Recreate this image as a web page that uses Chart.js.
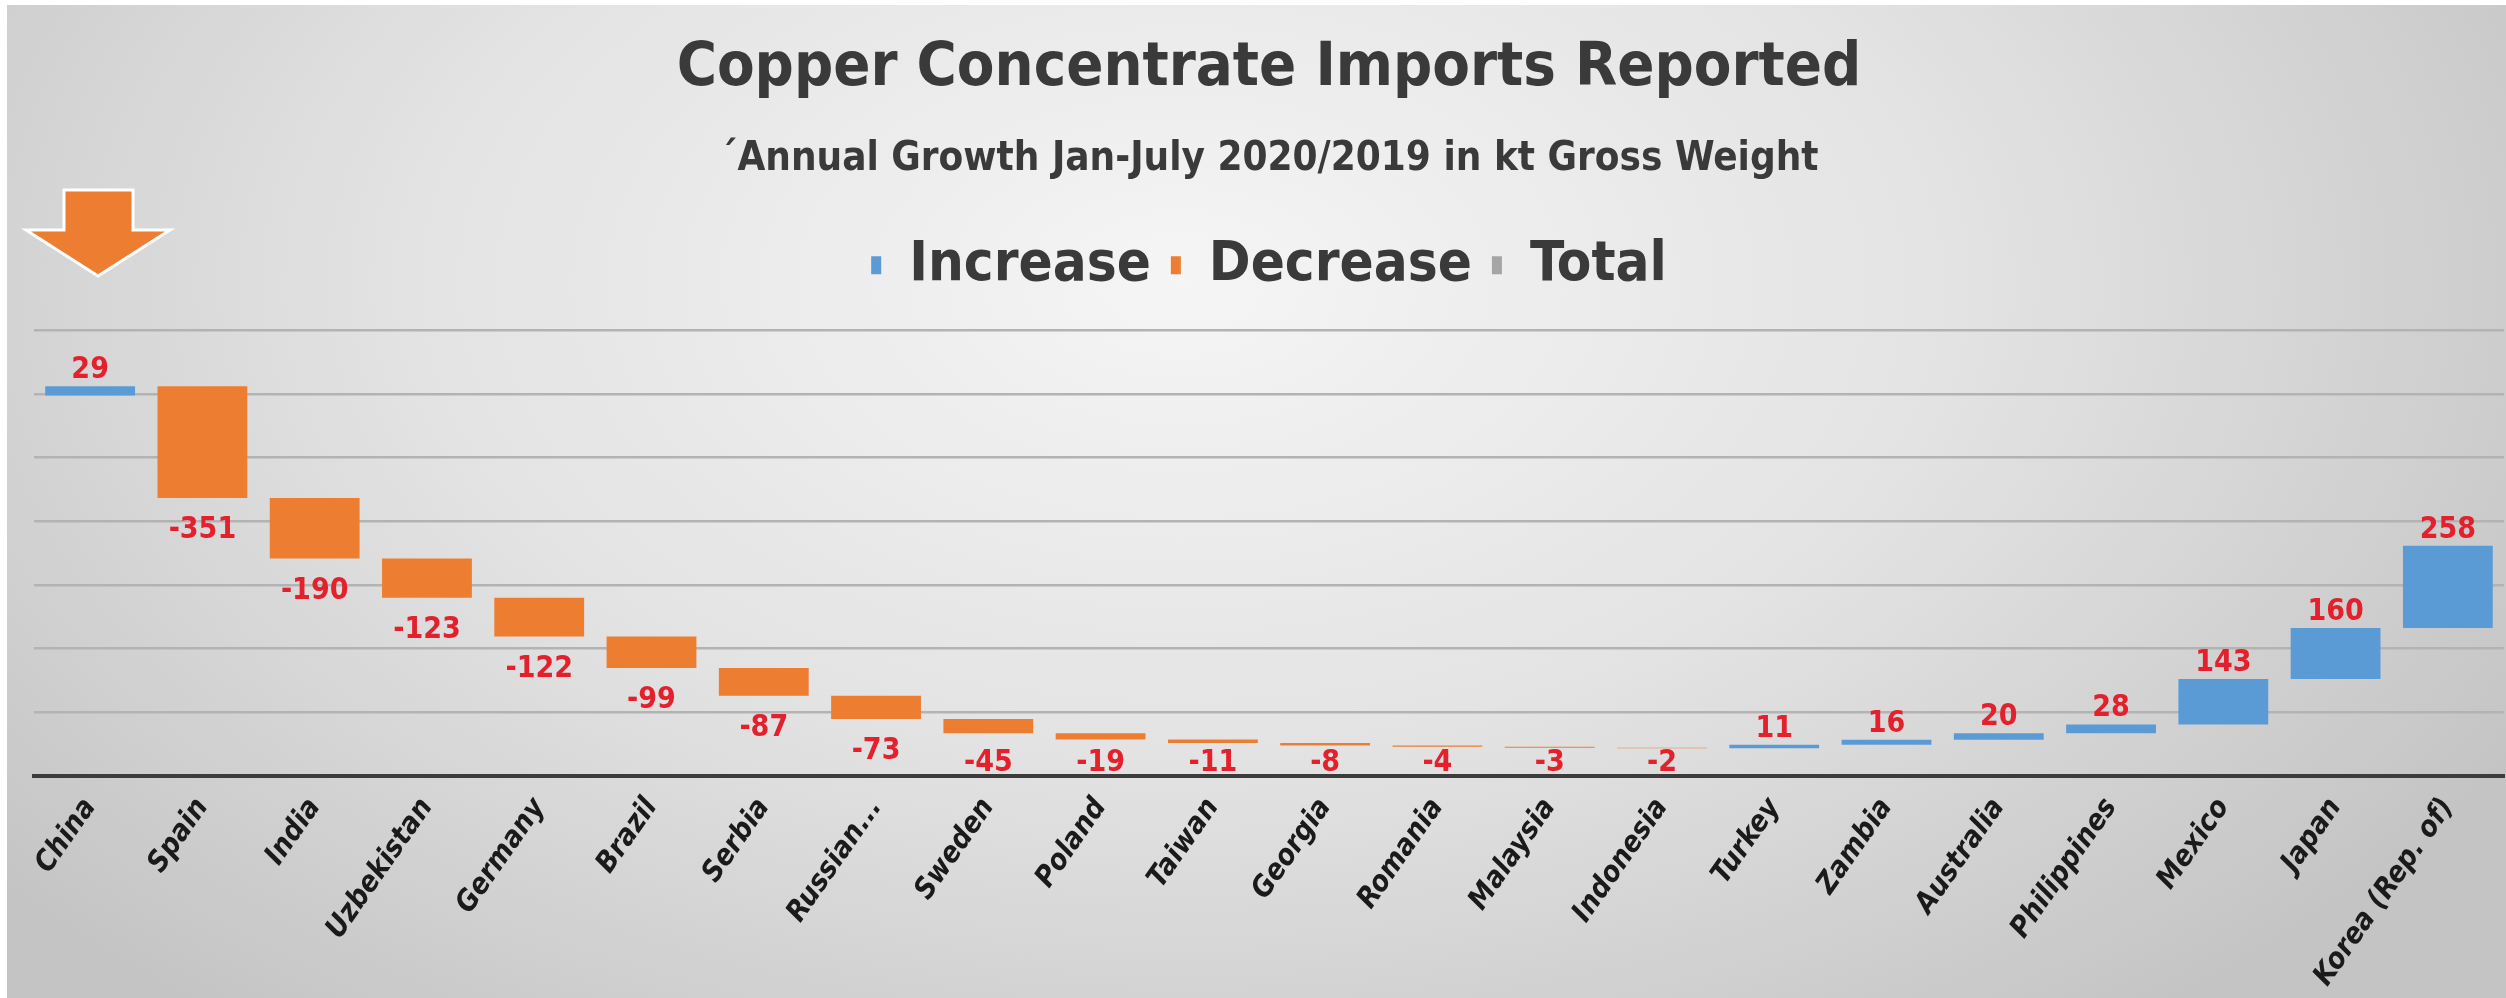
<!DOCTYPE html>
<html>
<head>
<meta charset="utf-8">
<script src="https://cdn.jsdelivr.net/npm/chart.js@4.4.1/dist/chart.umd.min.js"></script>
<style>
  html, body { margin: 0; padding: 0; background: #fff; }
  #wrap { position: relative; width: 2506px; height: 998px; overflow: hidden; }
  #bg {
    position: absolute; left: 7px; top: 5px; right: 0; bottom: 0;
    background: radial-gradient(ellipse 62% 95% at 47% 28%, #f5f5f5 0%, #e3e3e3 50%, #c4c4c4 100%);
  }
  #chart { position: absolute; left: 0; top: 0; }
</style>
</head>
<body>
<div id="wrap">
  <div id="bg"></div>
  <canvas id="chart" width="2506" height="998"></canvas>
</div>
<script>
// -------------------- data --------------------//
var categories = ["China", "Spain", "India", "Uzbekistan", "Germany", "Brazil", "Serbia", "Russian...",
    "Sweden", "Poland", "Taiwan", "Georgia", "Romania", "Malaysia", "Indonesia", "Turkey", "Zambia",
    "Australia", "Philippines", "Mexico", "Japan", "Korea (Rep. of)"];
var changes = [29, -351, -190, -123, -122, -99, -87, -73, -45, -19, -11, -8, -4, -3, -2,
    11, 16, 20, 28, 143, 160, 258];
var startLevel = 1195; // bottom of the first (China) bar
var yTicks = [0, 200, 400, 600, 800, 1000, 1200, 1400];

var FONT = '"DejaVu Sans Condensed", "Liberation Sans Narrow", sans-serif';

// waterfall ranges [from, to]
var ranges = [];
var level = startLevel;
changes.forEach(function (v) {
    ranges.push([level, level + v]);
    level += v;
});

var increaseData = ranges.map(function (r, i) { return changes[i] >= 0 ? r : null; });
var decreaseData = ranges.map(function (r, i) { return changes[i] < 0 ? r : null; });
var totalData = categories.map(function () { return null; });

// red value labels above rises / below falls (kept above the axis line)
var valueLabels = {
    id: 'valueLabels',
    afterDatasetsDraw: function (chart) {
        var ctx = chart.ctx;
        var xs = chart.scales.x, ys = chart.scales.y;
        var floor = chart.chartArea.bottom - 5;
        ctx.save();
        ctx.font = 'bold 30px ' + FONT;
        ctx.fillStyle = '#e3202b';
        ctx.textAlign = 'center';
        ctx.textBaseline = 'alphabetic';
        changes.forEach(function (v, i) {
            var x = xs.getPixelForValue(i);
            var hi = Math.max(ranges[i][0], ranges[i][1]);
            var lo = Math.min(ranges[i][0], ranges[i][1]);
            if (v >= 0) {
                ctx.fillText(String(v), x, ys.getPixelForValue(hi) - 8);
            } else {
                ctx.fillText(String(v), x, Math.min(ys.getPixelForValue(lo) + 40, floor));
            }
        });
        ctx.restore();
    }
};

// extra room under the legend
var legendGap = {
    id: 'legendGap',
    beforeInit: function (chart) {
        var fit = chart.legend.fit;
        chart.legend.fit = function () {
            fit.bind(chart.legend)();
            this.height += 27;
        };
    }
};

// orange arrow in the top-left corner
var cornerArrow = {
    id: 'cornerArrow',
    afterDraw: function (chart) {
        var ctx = chart.ctx;
        ctx.save();
        ctx.beginPath();
        ctx.moveTo(64, 190);
        ctx.lineTo(133, 190);
        ctx.lineTo(133, 230);
        ctx.lineTo(170, 230);
        ctx.lineTo(98, 276);
        ctx.lineTo(26, 230);
        ctx.lineTo(64, 230);
        ctx.closePath();
        ctx.fillStyle = '#ed7d31';
        ctx.fill();
        ctx.lineWidth = 3;
        ctx.strokeStyle = '#ffffff';
        ctx.stroke();
        ctx.restore();
    }
};

var ctx = document.querySelector('#chart').getContext('2d');
var chart = new Chart(ctx, {
    type: 'bar',
    data: {
        labels: categories,
        datasets: [{
            label: 'Increase',
            backgroundColor: '#5b9bd5',
            data: increaseData
        }, {
            label: 'Decrease',
            backgroundColor: '#ed7d31',
            data: decreaseData
        }, {
            label: 'Total',
            backgroundColor: '#a5a5a5',
            data: totalData
        }]
    },
    options: {
        responsive: false,
        animation: false,
        devicePixelRatio: 1,
        layout: { padding: { left: 34, right: 2, top: 0, bottom: 0 } },
        datasets: {
            bar: { grouped: false, barPercentage: 0.8, categoryPercentage: 1.0, borderWidth: 0 }
        },
        plugins: {
            title: {
                display: true,
                text: 'Copper Concentrate Imports Reported',
                color: '#3a3a3a',
                font: { family: FONT, size: 61, weight: 'bold' },
                padding: { top: 33, bottom: 29 }
            },
            subtitle: {
                display: true,
                text: '\u00b4Annual Growth Jan-July 2020/2019 in kt Gross Weight',
                color: '#3a3a3a',
                font: { family: FONT, size: 40, weight: 'bold' },
                padding: { top: 0, bottom: 34 }
            },
            legend: {
                display: true,
                position: 'top',
                labels: {
                    color: '#3a3a3a',
                    font: { family: FONT, size: 56, weight: 'bold' },
                    boxWidth: 10,
                    boxHeight: 18,
                    padding: 20
                }
            },
            tooltip: { enabled: false }
        },
        scales: {
            x: {
                grid: { display: false },
                border: { display: true, color: '#3c3c3c', width: 4 },
                ticks: {
                    autoSkip: false,
                    minRotation: 55,
                    maxRotation: 55,
                    padding: 8,
                    color: '#1a1a1a',
                    font: { family: FONT, size: 29, weight: 'bold', style: 'italic' }
                },
                afterFit: function (scale) { scale.height = 222; }
            },
            y: {
                min: yTicks[0],
                max: yTicks[yTicks.length - 1],
                afterBuildTicks: function (scale) {
                    scale.ticks = yTicks.map(function (v) { return { value: v }; });
                },
                ticks: { display: false },
                border: { display: false },
                grid: { color: '#b3b3b3', lineWidth: 2.5, drawTicks: false }
            }
        }
    },
    plugins: [valueLabels, legendGap, cornerArrow]
});
</script>
</body>
</html>
